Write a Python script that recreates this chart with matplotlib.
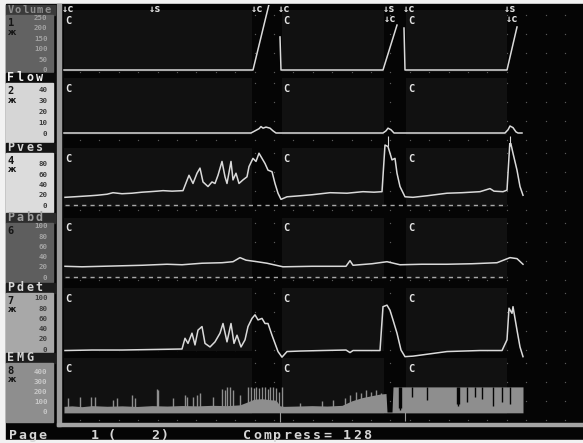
import matplotlib
matplotlib.use('Agg')
import matplotlib.pyplot as plt
from matplotlib.patches import Rectangle
import numpy as np

W, H = 583, 443
MONO = ['DejaVu Sans Mono', 'DejaVu Sans']

# channels
names = ['Volume', 'Flow', 'Pves', 'Pabd', 'Pdet', 'EMG']
chan_no = ['1', '2', '4', '6', '7', '8']
tick_vals = [[0, 50, 100, 150, 200, 250],
             [0, 10, 20, 30, 40],
             [0, 20, 40, 60, 80],
             [0, 20, 40, 60, 80, 100],
             [0, 20, 40, 60, 80, 100],
             [0, 100, 200, 300, 400]]

# event markers (time, s)
ev_t = [2, 89, 191, 218, 323, 343, 444]
ev_lbl = ['c', 's', 'c', 'c', 's', 'c', 's']
ev2_t = [324, 446]
ev2_lbl = ['c', 'c']
c_t = [3, 221, 346]
fill_spans = [(2, 190), (220, 322), (344, 445)]

# Volume (ml)
vol_t = [2, 191, 207, np.nan, 218, 219, 321, 335, np.nan, 342, 343, 445, 455]
vol_v = [0, 0, 310, np.nan, 156, 0, 0, 212, np.nan, 198, 0, 0, 203]

# Flow (ml/s)
flow_t = [2, 189, 193, 197, 199, 201, 204, 208, 211, 214, 321, 324, 326, 329, 332,
          443, 446, 448, 451, 454, 456, 460]
flow_v = [0, 0, 2, 4, 6, 4.5, 5.5, 4.5, 2, 0, 0, 2, 4.5, 3, 0,
          0, 3, 6.5, 5, 1, 0, 0]
flow_mark_t = [326, 448]

# Pves (cmH2O)
pves_t = [3, 12, 20, 28, 35, 45, 51, 60, 70, 80, 88, 95, 101, 110, 121,
          127, 131, 135, 138, 141, 146, 150, 153, 156, 160, 163, 165, 169, 171, 174,
          177, 181, 185, 187, 191, 194, 197, 200, 203, 206, 210, 213, 216, 219, 225,
          238, 250, 268, 285, 301, 312, 320, 323, 326, 330, 333, 335, 338, 343, 351,
          365, 385, 400, 418, 428, 432, 441, 445, 448, 451, 455, 458, 461]
pves_v = [15, 16, 17, 18, 19, 21, 24, 22, 23, 25, 26, 27, 28, 27, 28,
          58, 42, 62, 72, 45, 36, 45, 42, 58, 85, 55, 42, 85, 49, 62,
          42, 49, 55, 75, 91, 85, 101, 91, 81, 68, 65, 42, 23, 11, 16,
          18, 20, 24, 23, 26, 25, 26, 117, 114, 88, 91, 62, 36, 16, 15,
          18, 23, 24, 26, 32, 27, 26, 29, 127, 101, 68, 36, 19]

# Pabd (cmH2O)
pabd_t = [3, 20, 40, 60, 80, 105, 120, 140, 160, 171, 178, 184, 195, 205, 221,
          250, 284, 288, 291, 310, 325, 338, 360, 385, 410, 435, 448, 455, 461]
pabd_v = [21, 20, 21, 22, 23, 25, 24, 27, 28, 30, 38, 33, 30, 27, 20,
          21, 21, 32, 23, 26, 30, 24, 25, 25, 26, 28, 38, 36, 25]

# Pdet (cmH2O)
pdet_t = [3, 30, 60, 90, 120, 123, 126, 130, 133, 136, 140, 143, 148, 153, 158,
          161, 165, 169, 172, 175, 179, 183, 186, 190, 193, 196, 200, 203, 206, 210,
          213, 216, 220, 225, 238, 260, 284, 288, 291, 318, 321, 325, 328, 331, 335,
          339, 343, 351, 385, 418, 440, 445, 447, 450, 451, 455, 458, 461]
pdet_v = [-3, -2, -2, -1, 0, 21, 11, 31, 8, 37, 44, 11, 4, 14, 31,
          50, 14, 50, 11, 27, 4, 18, 44, 60, 67, 57, 60, 50, 50, 27,
          11, -5, -16, -5, -4, -3, -2, -7, -3, -3, 83, 86, 76, 57, 31,
          -2, -15, -14, -5, -3, -3, 18, 80, 70, 83, 37, 4, -15]

# EMG (uV)
emg_t = [2, 10, 20, 30, 45, 60, 75, 90, 105, 120, 135, 150, 165, 178, 186, 192, 200,
         208, 214, 218, 222, 235, 250, 265, 280, 290, 300, 310, 318, 324, 325, 330,
         331, 461]
emg_v = [55, 60, 52, 62, 56, 60, 54, 62, 58, 63, 60, 65, 62, 70, 100, 125, 130,
         120, 115, 60, 55, 58, 62, 58, 65, 110, 140, 160, 175, 180, 0, 0,
         245, 245]
spk_t = [6, 18, 29, 33, 51, 55, 70, 73, 95, 96, 111, 123, 125, 131, 135, 138, 151,
         160, 163, 165, 168, 171, 178, 186, 189, 192, 194, 197, 200, 203, 206, 208,
         211, 214, 217, 220, 238, 260, 271, 283, 288, 294, 299, 304, 309, 314, 319]
spk_v = [133, 149, 149, 149, 117, 133, 165, 137, 222, 215, 133, 165, 149, 149, 165,
         182, 149, 224, 215, 247, 240, 215, 165, 240, 240, 235, 244, 230, 240, 244,
         225, 240, 244, 230, 200, 240, 90, 110, 120, 140, 170, 200, 190, 210, 200,
         215, 190]
dip_t = [337, 338, 339, 350, 365, 395, 396, 397, 405, 413, 420, 431, 440, 448]
dip_v = [40, 20, 40, 150, 120, 80, 60, 80, 100, 150, 130, 60, 100, 80]
neg_t = [218, 343]
neg_v = [-100, -90]

# pixel layout of the six strips
top = [5, 73, 143, 213, 283, 353]
bot = [73, 143, 213, 283, 353, 423]
zero = [70, 133, 205, 277, 349, 412]
step = [10.6, 10.75, 10.25, 10.2, 10.2, 10.25]
ax_bot = [79, 149, 219, 289, 359, 423]

hdr_bg = ['#3a3a3a', '#0c0c0c', '#141414', '#2c2c2c', '#1c1c1c', '#1c1c1c']
hdr_fg = ['#8e8e8e', '#f0f0f0', '#d4d4d4', '#a0a0a0', '#d8d8d8', '#d4d4d4']
box_bg = ['#626262', '#d6d6d6', '#dcdcdc', '#5e5e5e', '#a8a8a8', '#8e8e8e']
box_fg = ['#a2a2a2', '#3a3a3a', '#3a3a3a', '#a4a4a4', '#404040', '#c8c8c8']
trace_c = '#dadada'

fig = plt.figure(figsize=(W / 100, H / 100), dpi=100, facecolor='#f2f2f2')
bg = fig.add_axes([0, 0, 1, 1])
bg.set_xlim(0, W)
bg.set_ylim(H, 0)
bg.axis('off')
bg.add_patch(Rectangle((6, 4), W - 6, 436, color='#050505', zorder=0))


def mono(ax, x, y, s, pitch, **kw):
    for i, ch in enumerate(s):
        ax.text(x + i * pitch, y, ch, ha='center', va='center', family=MONO,
                fontweight='bold', **kw)


# label column
for i in range(6):
    bg.add_patch(Rectangle((6, top[i]), 49, 10, color=hdr_bg[i], zorder=1))
    bg.add_patch(Rectangle((6, top[i] + 10), 47, bot[i] - top[i] - 11,
                           color=box_bg[i], zorder=1))
    if len(names[i]) > 4:
        mono(bg, 10.5, top[i] + 4.6, names[i], 7.4, fontsize=7.5, color=hdr_fg[i], zorder=2)
    else:
        mono(bg, 11, top[i] + 4.8, names[i], 9.4, fontsize=8.5, color=hdr_fg[i], zorder=2)
    mono(bg, 11, top[i] + 18, chan_no[i], 6, fontsize=7.5, color='#151515', zorder=2)
    if i != 3:
        bg.text(12, top[i] + 27, '\u0436', ha='center', va='center', fontsize=6,
                fontweight='bold', color='#151515', zorder=2)

# axis bars
bg.add_patch(Rectangle((56.5, 4), 4.5, 422, color='#9c9c9c', zorder=1))
bg.add_patch(Rectangle((56.5, 422.5), W - 56.5, 3.5, color='#a4a4a4', zorder=1))
bg.add_patch(Rectangle((0, 440), W, 3, color='#f2f2f2', zorder=3))

# dotted grid
gx = np.arange(80, W, 19.4)
for i in range(6):
    gy = np.arange(top[i] + 10, bot[i], 19)
    xx, yy = np.meshgrid(gx, gy)
    bg.scatter(xx.ravel(), yy.ravel(), s=0.9, color='#5c5c5c', lw=0, zorder=1)

# footer
mono(bg, 12.5, 435.5, 'Page', 10, fontsize=9.5, color='#d6d6d6')
mono(bg, 95, 435.5, '1 (', 8, fontsize=9.5, color='#d6d6d6')
mono(bg, 155, 435.5, '2)', 9.5, fontsize=9.5, color='#d6d6d6')
mono(bg, 247, 435.5, 'Compress= 128', 10, fontsize=9.5, color='#d6d6d6')

# data strips
axes = []
for i in range(6):
    h = ax_bot[i] - top[i]
    ax = fig.add_axes([62 / W, 1 - ax_bot[i] / H, (W - 62) / W, h / H])
    ax.set_facecolor('none')
    ylo = (zero[i] - ax_bot[i]) / step[i] * tick_vals[i][1]
    yhi = (zero[i] - top[i]) / step[i] * tick_vals[i][1]
    ax.set_xlim(0, 521)
    ax.set_ylim(ylo, yhi)
    for s in ax.spines.values():
        s.set_visible(False)
    ax.set_xticks([])
    ax.set_yticks(tick_vals[i])
    ax.set_yticklabels([str(v) for v in tick_vals[i]], family=MONO,
                       fontweight='bold', fontsize=5.3)
    ax.tick_params(axis='y', length=0, pad=10.5, labelcolor=box_fg[i])
    ymin = (ax_bot[i] - min(zero[i] + 2, ax_bot[i])) / h
    ymax = 1 - 5 / h
    for a, b in fill_spans:
        ax.axvspan(a, b, ymin, ymax, color='#111111', lw=0, zorder=0)
    tr = ax.get_xaxis_transform()
    for t in c_t:
        ax.text(t, (ax_bot[i] - top[i] - 15.5) / h, 'C', transform=tr, ha='left',
                va='center', family=MONO, fontweight='bold', fontsize=7.5,
                color='#e4e4e4')
    axes.append(ax)

lw = 1.1
axes[0].plot(vol_t, vol_v, color=trace_c, lw=lw)
axes[1].plot(flow_t, flow_v, color=trace_c, lw=lw)
axes[1].vlines(flow_mark_t, -12, -3, color=trace_c, lw=0.8)
axes[2].plot(pves_t, pves_v, color=trace_c, lw=lw)
axes[2].hlines(0, 3, 445, color='#a8a8a8', lw=1, linestyles=(0, (3, 3)))
axes[3].plot(pabd_t, pabd_v, color=trace_c, lw=lw)
axes[3].hlines(0, 3, 445, color='#a8a8a8', lw=1, linestyles=(0, (3, 3)))
axes[4].plot(pdet_t, pdet_v, color=trace_c, lw=lw)
axes[5].fill_between(emg_t, -8, emg_v, color='#8e8e8e', lw=0)
axes[5].vlines(spk_t, 0, spk_v, color='#8e8e8e', lw=1)
axes[5].vlines(dip_t, dip_v, 246, color='#050505', lw=1)
axes[5].vlines(neg_t, neg_v, 0, color='#9a9a9a', lw=0.8)

# event labels along the top
tr0 = axes[0].get_xaxis_transform()
h0 = ax_bot[0] - top[0]
for t, lab in zip(ev_t, ev_lbl):
    axes[0].text(t - 2, (ax_bot[0] - 9.5) / h0, '\u2193' + lab, transform=tr0,
                 ha='left', va='center', family=MONO, fontweight='bold',
                 fontsize=7.5, color='#e4e4e4')
for t, lab in zip(ev2_t, ev2_lbl):
    axes[0].text(t - 2, (ax_bot[0] - 19.5) / h0, '\u2193' + lab, transform=tr0,
                 ha='left', va='center', family=MONO, fontweight='bold',
                 fontsize=7.5, color='#e4e4e4')

fig.savefig('out.png', dpi=100, facecolor=fig.get_facecolor())
